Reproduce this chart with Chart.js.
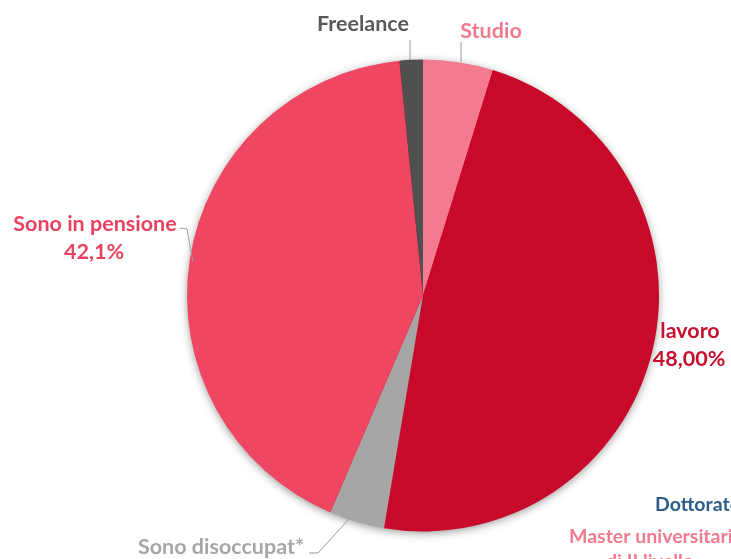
<!DOCTYPE html>
<html>
<head>
<meta charset="utf-8">
<script src="https://cdn.jsdelivr.net/npm/chart.js@4/dist/chart.umd.min.js"></script>
<style>
  html, body { margin: 0; padding: 0; background: #fff; }
  canvas { display: block; }
</style>
</head>
<body>
<canvas id="pie" width="731" height="559"></canvas>
<script>
// slices, clockwise from 12 o'clock
const categories = ['Studio', 'lavoro', 'Sono disoccupat*', 'Sono in pensione', 'Freelance'];
const shares = [4.8, 48.0, 3.8, 42.1, 1.6];
const sliceColors = ['#f47b8f', '#c8092a', '#a6a6a6', '#ef4762', '#505050'];
// value text under the label, only where shown
const valueText = ['', '48,00%', '', '42,1%', ''];

// labels from the neighbouring chart that bleed into the frame
const sideLegend = ['Dottorato', 'Master universitario', 'di II livello'];

const FONT = 'Lato, "Open Sans", sans-serif';

// label placements: [x, y, align, colour]
const labelSpots = [
  [491, 31, 'center', '#f07a8e'],
  [690, 331, 'center', '#c8102e'],
  [221, 547, 'center', '#a6a6a6'],
  [95, 224, 'center', '#e9415f'],
  [363, 24, 'center', '#595959']
];
// leader lines for each slice label
const leaders = [
  [[461, 42], [461, 62]],
  null,
  [[309, 553], [318, 553], [349, 519]],
  [[180, 228], [187, 229], [193, 262]],
  [[410, 40], [410, 60]]
];

const pieShadow = {
  id: 'pieShadow',
  beforeDatasetsDraw(chart) {
    const arc = chart.getDatasetMeta(0).data[0];
    if (!arc) return;
    const ctx = chart.ctx;
    ctx.save();
    ctx.shadowColor = 'rgba(0,0,0,0.45)';
    ctx.shadowBlur = 10;
    ctx.shadowOffsetY = 2;
    ctx.fillStyle = '#c8092a';
    ctx.beginPath();
    ctx.arc(arc.x, arc.y, arc.outerRadius - 1, 0, Math.PI * 2);
    ctx.fill();
    ctx.restore();
  }
};

const sliceLabels = {
  id: 'sliceLabels',
  afterDraw(chart) {
    const ctx = chart.ctx;
    ctx.save();
    ctx.strokeStyle = '#9a9a9a';
    ctx.lineWidth = 1;
    leaders.forEach(pts => {
      if (!pts) return;
      ctx.beginPath();
      pts.forEach((p, i) => i ? ctx.lineTo(p[0], p[1]) : ctx.moveTo(p[0], p[1]));
      ctx.stroke();
    });
    ctx.textBaseline = 'middle';
    ctx.font = 'bold 21.5px ' + FONT;
    categories.forEach((name, i) => {
      const s = labelSpots[i];
      ctx.fillStyle = s[3];
      ctx.textAlign = s[2];
      ctx.fillText(name, s[0], s[1]);
      if (valueText[i]) ctx.fillText(valueText[i], s[0] - 1, s[1] + 28);
    });
    // neighbouring legend text
    ctx.font = 'bold 19.5px ' + FONT;
    ctx.textAlign = 'left';
    ctx.fillStyle = '#2e5c8a';
    ctx.fillText(sideLegend[0], 655, 505);
    ctx.fillStyle = '#f27a8e';
    ctx.fillText(sideLegend[1], 569, 537);
    ctx.textAlign = 'center';
    ctx.fillText(sideLegend[2], 650, 562);
    ctx.restore();
  }
};

new Chart(document.getElementById('pie'), {
  type: 'pie',
  data: {
    labels: categories,
    datasets: [{
      data: shares,
      backgroundColor: sliceColors,
      borderWidth: 0
    }]
  },
  options: {
    responsive: false,
    animation: false,
    layout: { padding: { left: 187, right: 72, top: 59, bottom: 27 } },
    plugins: { legend: { display: false }, tooltip: { enabled: false } }
  },
  plugins: [pieShadow, sliceLabels]
});
</script>
</body>
</html>
